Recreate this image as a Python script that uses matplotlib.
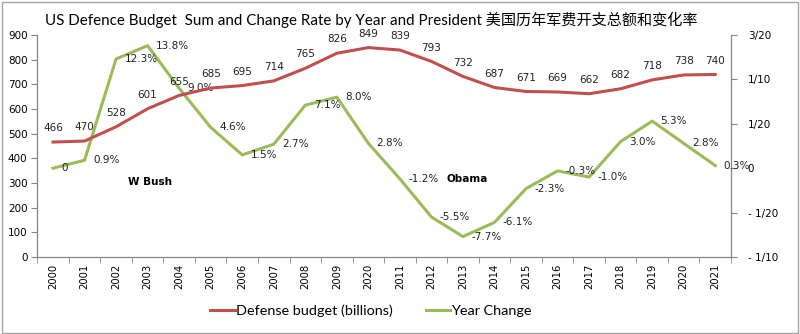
import matplotlib
matplotlib.use("Agg")
import matplotlib.pyplot as plt
from matplotlib.patches import Rectangle
from matplotlib.lines import Line2D

plt.rcParams['font.family'] = ['DejaVu Sans', 'Noto Sans CJK SC']

years = ["2000", "2001", "2002", "2003", "2004", "2005", "2006", "2007", "2008", "2009",
         "2020", "2011", "2012", "2013", "2014", "2015", "2016", "2017", "2018", "2019",
         "2020", "2021"]
budget = [466, 470, 528, 601, 655, 685, 695, 714, 765, 826, 849, 839, 793, 732, 687,
          671, 669, 662, 682, 718, 738, 740]
change = [0.0, 0.009, 0.123, 0.138, 0.090, 0.046, 0.015, 0.027, 0.071, 0.080, 0.028,
          -0.012, -0.055, -0.077, -0.061, -0.023, -0.003, -0.010, 0.030, 0.053, 0.028, 0.003]
change_labels = ["0", "0.9%", "12.3%", "13.8%", "9.0%", "4.6%", "1.5%", "2.7%", "7.1%", "8.0%",
                 "2.8%", "-1.2%", "-5.5%", "-7.7%", "-6.1%", "-2.3%", "-0.3%", "-1.0%", "3.0%",
                 "5.3%", "2.8%", "0.3%"]
right_ticks = [-0.10, -0.05, 0.0, 0.05, 0.10, 0.15]
right_tick_labels = ["- 1/10", "- 1/20", "0", "1/20", "1/10", "3/20"]

RED = "#C0504D"
GREEN = "#9BBB59"
AXC = "#868686"

fig = plt.figure(figsize=(8, 3.34), dpi=100)
fig.patches.append(Rectangle((0.002, 0.004), 0.995, 0.99, transform=fig.transFigure,
                             fill=False, edgecolor="#A6A6A6", linewidth=1.0))

ax = fig.add_axes([37.25 / 800, 77 / 334, (731 - 37.25) / 800, 222 / 334])
ax2 = ax.twinx()

x = list(range(len(years)))
ax.plot(x, budget, color=RED, lw=2.2, solid_joinstyle='round', zorder=3)
ax2.plot(x, change, color=GREEN, lw=2.2, solid_joinstyle='round', zorder=3)

ax.set_xlim(-0.5, len(years) - 0.5)
ax.set_ylim(0, 900)
ax.set_yticks(range(0, 901, 100))
ax2.set_ylim(-0.10, 0.15)
ax2.set_yticks(right_ticks)
ax2.set_yticklabels(right_tick_labels)

ax.set_xticks(x)
ax.set_xticklabels(years, rotation=90, fontsize=7.2)
ax.set_xticks([i - 0.5 for i in range(len(years) + 1)], minor=True)
ax.tick_params(axis='x', which='major', length=0, pad=5)
ax.tick_params(axis='x', which='minor', length=4, direction='out', color=AXC)
ax.tick_params(axis='y', labelsize=7.5, length=4, color=AXC, pad=3)
ax2.tick_params(axis='y', labelsize=7.5, length=4, color=AXC, pad=8)

for a in (ax, ax2):
    a.spines['top'].set_visible(False)
    for s in ('left', 'right', 'bottom'):
        a.spines[s].set_color(AXC)
        a.spines[s].set_linewidth(0.9)
ax.spines['right'].set_visible(False)
ax2.spines['left'].set_visible(False)
ax2.spines['bottom'].set_visible(False)
ax.set_zorder(ax2.get_zorder() + 1)
ax.patch.set_visible(False)

for i, v in enumerate(budget):
    ax.annotate(str(v), (i, v), xytext=(0, 10), textcoords='offset points',
                ha='center', va='center', fontsize=7.5, color='#222222')
for i, (v, lab) in enumerate(zip(change, change_labels)):
    ax2.annotate(lab, (i, v), xytext=(6, 0), textcoords='offset points',
                 ha='left', va='center', fontsize=7.5, color='#222222')

ax.text(3.08, 304, "W Bush", ha='center', va='center', fontsize=7.5, fontweight='bold')
ax.text(13.14, 316, "Obama", ha='center', va='center', fontsize=7.5, fontweight='bold')

fig.text(45 / 800, 1 - 20 / 334,
         "US Defence Budget  Sum and Change Rate by Year and President 美国历年军费开支总额和变化率",
         ha='left', va='center', fontsize=10.9, family=['Lato', 'Noto Sans CJK SC'])

handles = [Line2D([], [], color=RED, lw=2.2), Line2D([], [], color=GREEN, lw=2.2)]
fig.legend(handles, ["Defense budget (billions)", "Year Change"], loc='center',
           bbox_to_anchor=(371 / 800, 1 - 311 / 334), ncol=2, frameon=False,
           handlelength=1.7, handletextpad=0.05, columnspacing=2.3,
           prop={'family': 'Lato', 'size': 10.4})

fig.savefig("out.png", dpi=100)
